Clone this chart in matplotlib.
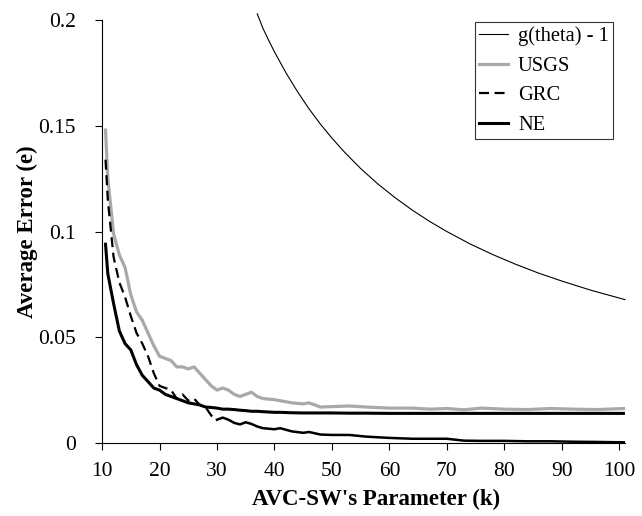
import matplotlib
matplotlib.use("Agg")
import matplotlib.pyplot as plt
from matplotlib.ticker import FuncFormatter

plt.rcParams["font.family"] = ["Liberation Serif", "DejaVu Serif"]

# values
k_vals = [10.6, 11, 12, 13, 14, 15, 16, 17, 18, 19, 20, 21, 22, 23, 24, 25, 26, 27,
          28, 29, 30, 31, 32, 33, 34, 35, 36, 37, 38, 40, 41, 43, 45, 46, 48, 50,
          53, 56, 60, 64, 67, 70, 73, 76, 80, 84, 88, 92, 96, 101]
usgs = [0.148, 0.125, 0.099, 0.089, 0.083, 0.070, 0.062, 0.058, 0.052, 0.046,
        0.041, 0.040, 0.039, 0.036, 0.036, 0.035, 0.036, 0.033, 0.030, 0.027,
        0.025, 0.026, 0.025, 0.023, 0.022, 0.023, 0.024, 0.022, 0.021, 0.0205,
        0.020, 0.019, 0.0185, 0.019, 0.017, 0.0172, 0.0175, 0.017, 0.0165, 0.0165,
        0.016, 0.0163, 0.0157, 0.0165, 0.016, 0.0158, 0.0163, 0.016, 0.0158, 0.0163]
grc = [0.134, 0.115, 0.088, 0.076, 0.069, 0.060, 0.052, 0.047, 0.041, 0.033,
       0.027, 0.026, 0.025, 0.021, 0.023, 0.020, 0.021, 0.018, 0.017, 0.013,
       0.011, 0.012, 0.011, 0.0095, 0.0088, 0.0098, 0.009, 0.0078, 0.007, 0.0065,
       0.007, 0.0055, 0.0048, 0.0052, 0.004, 0.0038, 0.0038, 0.003, 0.0024, 0.002,
       0.002, 0.002, 0.0011, 0.001, 0.001, 0.0008, 0.0008, 0.0006, 0.0005, 0.0003]
ne = [0.094, 0.080, 0.066, 0.053, 0.047, 0.044, 0.037, 0.032, 0.029, 0.026,
      0.025, 0.023, 0.022, 0.021, 0.020, 0.019, 0.0185, 0.018, 0.017, 0.0168,
      0.0165, 0.016, 0.016, 0.0158, 0.0155, 0.0153, 0.015, 0.015, 0.0148, 0.0145,
      0.0145, 0.0143, 0.0142, 0.0142, 0.0142, 0.0142, 0.0141, 0.0141, 0.014, 0.014,
      0.014, 0.014, 0.014, 0.014, 0.014, 0.014, 0.014, 0.014, 0.014, 0.014]

g_k = [37.0, 38, 39, 40, 42, 44, 46, 48, 50, 52, 55, 58, 61, 64, 67, 70, 74, 78,
       82, 86, 90, 95, 101]
g_theta = [0.203, 0.1961, 0.1904, 0.1850, 0.1751, 0.1662, 0.1581, 0.1508, 0.1442,
           0.1381, 0.1298, 0.1225, 0.1160, 0.1101, 0.1048, 0.1000, 0.0942, 0.0891,
           0.0845, 0.0803, 0.0766, 0.0723, 0.0678]

x_ticks = [10, 20, 30, 40, 50, 60, 70, 80, 90, 100]
y_ticks = [0, 0.05, 0.1, 0.15, 0.2]

fig = plt.figure(figsize=(6.42, 5.16), dpi=100)
ax = fig.add_axes([0.159, 0.1415, 0.8145, 0.8195])

ax.plot(g_k, g_theta, color="black", lw=0.8, label="g(theta) - 1", clip_on=False)
ax.plot(k_vals, usgs, color="#a9a9a9", lw=2.3, label="USGS")
# GRC looks dashed only while it is steep; the flat tail renders solid in the original
cut = k_vals.index(30) + 1
ax.plot(k_vals[:cut], grc[:cut], color="black", lw=1.6, ls=(0, (4.5, 2.5)), label="GRC")
ax.plot(k_vals[cut - 1:], grc[cut - 1:], color="black", lw=1.8)
ax.plot(k_vals, ne, color="black", lw=2.2, label="NE")

ax.set_xlim(10, 101)
ax.set_ylim(0, 0.2)
ax.set_xticks(x_ticks)
ax.set_yticks(y_ticks)
ax.yaxis.set_major_formatter(FuncFormatter(lambda v, p: f"{v:g}"))
ax.tick_params(direction="out", length=5, width=0.8, labelsize=15.5)
ax.tick_params(axis="x", pad=9)
ax.tick_params(axis="y", pad=14)
for s in ("top", "right"):
    ax.spines[s].set_visible(False)
ax.spines["left"].set_linewidth(0.8)
ax.spines["bottom"].set_linewidth(0.8)

ax.set_xlabel("AVC-SW's Parameter (k)", fontsize=16.5, fontweight="bold")
ax.set_ylabel("Average Error (e)", fontsize=16.5, fontweight="bold")
ax.xaxis.set_label_coords(0.524, -0.108)
ax.yaxis.set_label_coords(-0.122, 0.5)

leg = ax.legend(loc="upper right", bbox_to_anchor=(0.977, 0.995), fontsize=14.8,
                frameon=True, fancybox=False, edgecolor="black", handlelength=1.4,
                borderpad=0.2, labelspacing=0.5, handletextpad=0.5,
                borderaxespad=0.0)
leg.get_frame().set_linewidth(0.8)

fig.savefig("out.png", dpi=100)
